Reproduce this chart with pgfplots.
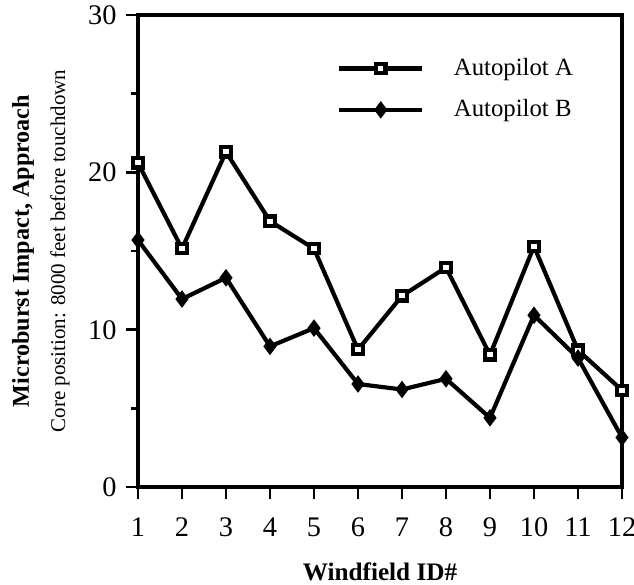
\documentclass[border=0pt]{standalone}
\usepackage{fontspec}
\setmainfont{Liberation Serif}
\usepackage{pgfplots}
\pgfplotsset{compat=1.18}

\begin{document}
\begin{tikzpicture}
\begin{axis}[
    name=ax,
    scale only axis,
    width=230.5pt, height=224.8pt,
    xmin=1, xmax=12,
    ymin=0, ymax=30,
    xtick={1,...,12},
    ytick={0,10,20,30},
    minor ytick={5,15,25},
    tick align=outside,
    xtick pos=bottom, ytick pos=left,
    major tick length=5.5pt, minor tick length=3.5pt,
    axis line style={line width=1.5pt},
    every tick/.style={black, line width=1.3pt},
    /pgf/number format/assume math mode=true,
    tick label style={font=\fontsize{13.5}{15}\selectfont},
    xticklabel shift=5.5pt,
    yticklabel shift=1.2pt,
    xlabel={\textbf{Windfield ID\#}},
    xlabel style={font=\fontsize{12}{14}\selectfont, at={(axis description cs:0.5,-0.18)}, anchor=center},
    ylabel={\textbf{Microburst Impact, Approach}},
    ylabel style={font=\fontsize{11.5}{14}\selectfont, at={(axis description cs:-0.2376,0.5)}, anchor=center},
    clip=false,
    legend style={draw=none, fill=none, at={(axis description cs:0.411,0.918)}, anchor=north west,
        font=\fontsize{11.8}{13}\selectfont, row sep=6pt, column sep=12pt, inner sep=0pt},
    legend cell align=left,
    legend image code/.code={\draw[mark repeat=2, mark phase=2] plot coordinates {(0pt,0pt) (19.7pt,0pt) (39.5pt,0pt)};},
]
\addplot[black, line width=2pt, mark=square*, mark size=2.2pt,
    mark options={fill=white, draw=black, line width=2pt}] coordinates {
    (1,20.6) (2,15.15) (3,21.3) (4,16.9) (5,15.15) (6,8.73)
    (7,12.15) (8,13.95) (9,8.4) (10,15.3) (11,8.7) (12,6.15)
};
\addlegendentry{Autopilot A}
\addplot[black, line width=2pt, mark=diamond*, mark size=3.7pt,
    mark options={fill=black, draw=black, line width=0.6pt}] coordinates {
    (1,15.7) (2,11.95) (3,13.3) (4,8.94) (5,10.1) (6,6.55)
    (7,6.2) (8,6.88) (9,4.4) (10,10.92) (11,8.2) (12,3.15)
};
\addlegendentry{Autopilot B}
\node[rotate=90, font=\fontsize{10}{12}\selectfont] at (axis description cs:-0.161,0.5)
    {Core position: 8000 feet before touchdown};
\coordinate (bbsw) at (axis description cs:-0.2851,-0.2055);
\coordinate (bbne) at (axis description cs:1.0248,1.0318);
\end{axis}
\pgfresetboundingbox
\path (bbsw) rectangle (bbne);
\end{tikzpicture}
\end{document}
